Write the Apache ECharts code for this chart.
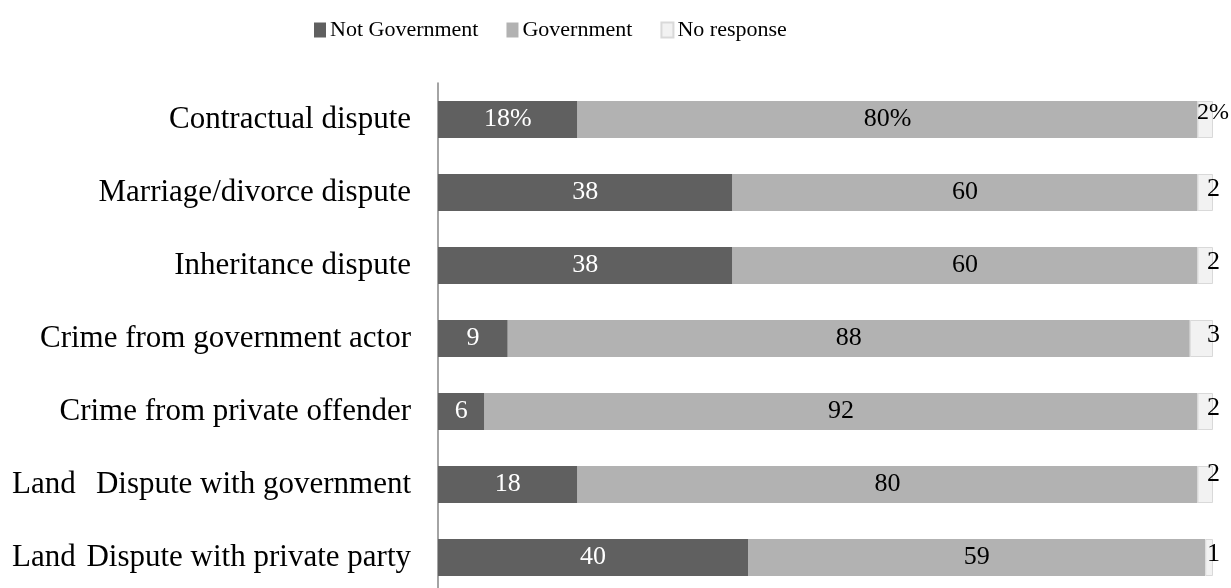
<!DOCTYPE html>
<html>
<head>
<meta charset="utf-8">
<script src="https://cdn.jsdelivr.net/npm/echarts@6/dist/echarts.min.js"></script>
<style>
html,body{margin:0;padding:0;background:#fff;}
#c{width:1231px;height:588px;}
</style>
</head>
<body>
<div id="c"></div>
<script>
const categories = [
  "Contractual dispute",
  "Marriage/divorce dispute",
  "Inheritance dispute",
  "Crime from government actor",
  "Crime from private offender",
  "Land Dispute with government",
  "Land Dispute with private party"
];
const notGovernment = [18, 38, 38, 9, 6, 18, 40];
const government = [80, 60, 60, 88, 92, 80, 59];
const noResponse = [2, 2, 2, 3, 2, 2, 1];
const seriesNames = ["Not Government", "Government", "No response"];

const FONT = "'Liberation Serif', serif";

function pctFmt(p) {
  return p.dataIndex === 0 ? p.value + "%" : String(p.value);
}

const chart = echarts.init(document.getElementById('c'), null, {renderer: 'canvas'});
chart.setOption({
  animation: false,
  backgroundColor: '#fff',
  legend: {
    left: 309,
    top: 14,
    itemWidth: 12,
    itemHeight: 15,
    itemGap: 28,
    icon: 'rect',
    textStyle: {fontFamily: FONT, fontSize: 22, color: '#000', padding: [0, 0, 0, -1]},
    data: seriesNames
  },
  grid: {left: 438, right: 18, top: 83, height: 511, containLabel: false, outerBoundsMode: 'none'},
  xAxis: {
    type: 'value', min: 0, max: 100, show: false
  },
  yAxis: {
    type: 'category',
    inverse: true,
    data: categories,
    axisLine: {show: true, lineStyle: {color: '#868686', width: 1.5}},
    axisTick: {show: false},
    axisLabel: {
      margin: 27,
      fontFamily: FONT,
      fontSize: 31,
      color: '#000',
      formatter: function (v) {
        if (v.indexOf('Land ') === 0) {
          return '{land|Land}{rest|' + v.slice(5) + '}';
        }
        return v;
      },
      rich: {
        land: {fontFamily: FONT, fontSize: 31, color: '#000', width: 69, align: 'left'},
        rest: {fontFamily: FONT, fontSize: 31, color: '#000', width: 330, align: 'right'}
      }
    }
  },
  series: [
    {
      name: seriesNames[0], type: 'bar', stack: 'total', barWidth: 37,
      itemStyle: {color: '#606060'},
      label: {show: true, position: 'inside', color: '#fff', fontFamily: FONT, fontSize: 26, formatter: pctFmt},
      data: notGovernment
    },
    {
      name: seriesNames[1], type: 'bar', stack: 'total', barWidth: 37,
      itemStyle: {color: '#b2b2b2'},
      label: {show: true, position: 'inside', color: '#000', fontFamily: FONT, fontSize: 26, formatter: pctFmt},
      data: government
    },
    {
      name: seriesNames[2], type: 'bar', stack: 'total', barWidth: 37,
      itemStyle: {color: '#f2f2f2', borderColor: '#d9d9d9', borderWidth: 1},
      label: {show: true, position: 'right', distance: 0, offset: [-6, -3], color: '#000', fontFamily: FONT, fontSize: 26, formatter: pctFmt},
      data: noResponse.map(function (v, i) {
        if (i === 0) return {value: v, label: {offset: [-16, -7], fontSize: 24}};
        if (i === 5) return {value: v, label: {offset: [-6, -10]}};
        return v;
      })
    }
  ]
});
</script>
</body>
</html>
